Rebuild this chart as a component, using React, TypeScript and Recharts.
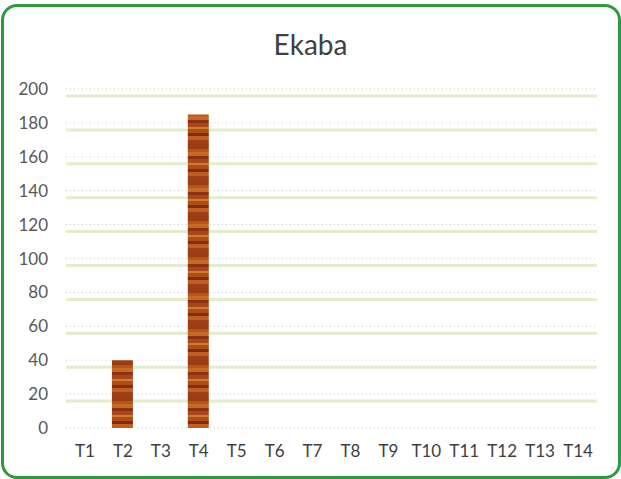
import { BarChart, Bar, XAxis, YAxis, CartesianGrid } from 'recharts'

const categories = ['T1', 'T2', 'T3', 'T4', 'T5', 'T6', 'T7', 'T8', 'T9', 'T10', 'T11', 'T12', 'T13', 'T14']
const values = [0, 40, 0, 185, 0, 0, 0, 0, 0, 0, 0, 0, 0, 0]
const yTicks = [0, 20, 40, 60, 80, 100, 120, 140, 160, 180, 200]

const data = categories.map((name, i) => ({ name, value: values[i] }))

// wood-like stripes for the bars (colour, band height)
const woodBands: [string, number][] = [
  ['#9a3c16', 5], ['#b9521c', 3], ['#c56a24', 4], ['#8c3214', 3], ['#a9461a', 4],
  ['#c9802e', 2], ['#b24a1a', 4], ['#7e2c12', 3], ['#bf5e20', 4], ['#a03e18', 4],
]

const font = 'Lato, "Open Sans", sans-serif'

// gridline: faint dotted line at the tick, light green band just under it
function GridLine(props: any) {
  const { x1, x2, y1, index } = props
  return (
    <g>
      <line x1={x1} x2={x2} y1={y1} y2={y1} stroke="#cccccc" strokeDasharray="1 3" strokeWidth={1} />
      {index !== 0 && (
        <line x1={x1} x2={x2} y1={y1 + 7} y2={y1 + 7} stroke="#e2edcc" strokeWidth={3} />
      )}
    </g>
  )
}

export default function App() {
  let offsetY = 0
  const stripes = woodBands.map(([c, h], i) => {
    const r = <rect key={i} x={0} y={offsetY} width={24} height={h} fill={c} />
    offsetY += h
    return r
  })

  return (
    <div style={{ position: 'absolute', left: 0, top: 0, width: 621, height: 479, background: '#fff' }}>
      <div
        style={{
          position: 'absolute',
          left: 1,
          top: 4,
          width: 614,
          height: 469,
          border: '3px solid #2f9a3c',
          borderRadius: 16,
        }}
      />
      <div
        style={{
          position: 'absolute',
          left: 0,
          top: 27,
          width: 621,
          textAlign: 'center',
          fontFamily: font,
          fontSize: 28,
          color: '#404040',
        }}
      >
        Ekaba
      </div>
      <BarChart
        width={621}
        height={479}
        data={data}
        margin={{ top: 89, right: 24, bottom: 21, left: 16 }}
        style={{ position: 'absolute', left: 0, top: 0 }}
      >
        <defs>
          <pattern id="wood" patternUnits="userSpaceOnUse" width={24} height={offsetY}>
            {stripes}
          </pattern>
        </defs>
        <CartesianGrid vertical={false} horizontal={GridLine} />
        <XAxis
          dataKey="name"
          axisLine={false}
          tickLine={false}
          tickMargin={11}
          interval={0}
          tick={{ fill: '#404040', fontSize: 17, fontFamily: font }}
        />
        <YAxis
          width={50}
          domain={[0, 200]}
          ticks={yTicks}
          axisLine={false}
          tickLine={false}
          tickMargin={12}
          tick={{ fill: '#595959', fontSize: 17, fontFamily: font }}
        />
        <Bar dataKey="value" fill="url(#wood)" barSize={21} isAnimationActive={false} />
      </BarChart>
    </div>
  )
}
